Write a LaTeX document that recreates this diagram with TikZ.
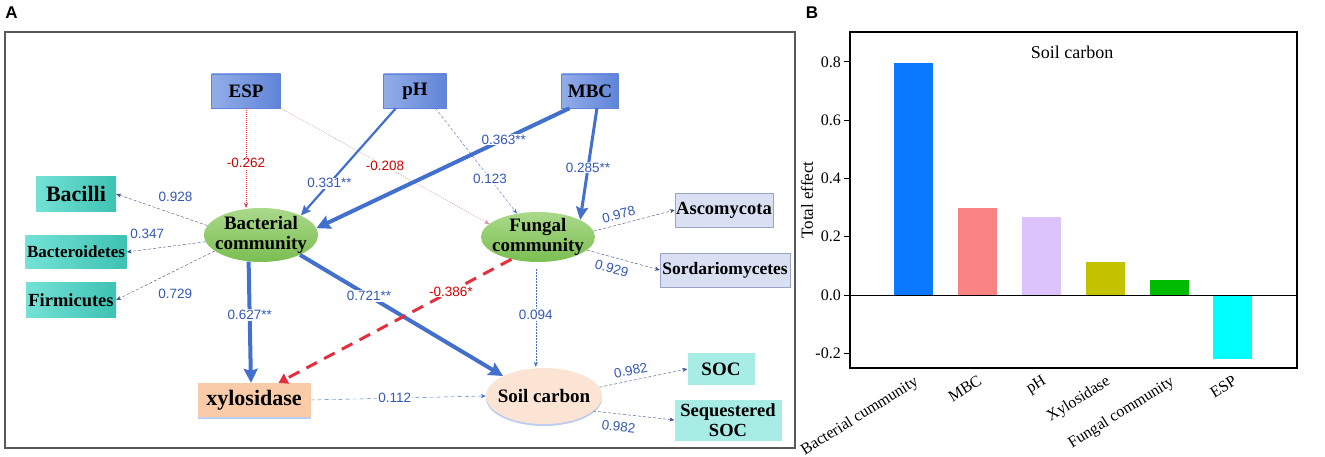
\documentclass[tikz,border=0pt]{standalone}
\usepackage{fontspec}
\setmainfont{Liberation Serif}
\newfontfamily\arialfont{Liberation Sans}
\usetikzlibrary{shapes.geometric,arrows.meta,shadows}

\definecolor{inA}{HTML}{93ADE8}
\definecolor{inB}{HTML}{5F84D8}
\definecolor{tealA}{HTML}{74E2D6}
\definecolor{tealB}{HTML}{3EC2B2}
\definecolor{lav}{HTML}{DAE0F4}
\definecolor{lavline}{HTML}{9AA4C4}
\definecolor{soc}{HTML}{A8EDE5}
\definecolor{peach}{HTML}{F9CBA8}
\definecolor{soil}{HTML}{FCE4D4}
\definecolor{grA}{HTML}{AAD98A}
\definecolor{grB}{HTML}{7BBE52}
\definecolor{pathblue}{HTML}{4270CC}
\definecolor{lblblue}{HTML}{3458B8}
\definecolor{navy}{HTML}{3A4C82}
\definecolor{redline}{HTML}{E2303E}
\definecolor{lblred}{HTML}{D40000}
\definecolor{pinkline}{HTML}{C98890}
\definecolor{barA}{HTML}{0A78FF}
\definecolor{barB}{HTML}{F98282}
\definecolor{barC}{HTML}{DCC3FB}
\definecolor{barD}{HTML}{C2C200}
\definecolor{barE}{HTML}{00BB00}
\definecolor{barF}{HTML}{00FFFF}

\begin{document}
\begin{tikzpicture}[x=1pt,y=-1pt,>={Stealth[length=5pt,width=4pt]},
    inbox/.style={rectangle, left color=inA, right color=inB, draw=inB, minimum height=34pt, inner sep=0pt, font=\bfseries\fontsize{19}{19}\selectfont},
    tealbox/.style={rectangle, left color=tealA, right color=tealB, minimum height=35pt, inner sep=0pt},
    lavbox/.style={rectangle, fill=lav, draw=lavline, minimum height=34pt, inner sep=0pt},
    socbox/.style={rectangle, fill=soc, inner sep=0pt, align=center},
    greenell/.style={ellipse, top color=grA, bottom color=grB, minimum width=114pt, minimum height=54pt, inner xsep=-14pt, inner ysep=-8pt, align=center, font=\bfseries\fontsize{19}{20}\selectfont},
    lbl/.style={font=\arialfont\fontsize{13.5}{13.5}\selectfont, text=lblblue, inner sep=1pt},
    onl/.style={lbl, fill=white},
    side/.style={->, draw=navy, thin, dash pattern=on 3pt off 2pt},
    strong/.style={draw=pathblue, line width=4pt, -{Stealth[length=14pt,width=14pt,inset=2pt]}},
    ]
    \useasboundingbox (0,0) rectangle (1325,457);

    % panel A
    \node [font=\arialfont\bfseries\fontsize{17}{17}\selectfont](A) at (11.5,12.5){A};
    \draw [draw=black!65, line width=1.3pt] (5,32) rectangle (795,448);

    \node [inbox, minimum width=69pt](1) at (246,91){ESP};
    \node [inbox, minimum width=63pt](2) at (415,91){pH};
    \node [inbox, minimum width=57pt](3) at (590,91){MBC};

    \node [tealbox, minimum width=80pt, font=\bfseries\fontsize{22}{22}\selectfont](4) at (76,194){Bacilli};
    \node [tealbox, minimum width=101pt, minimum height=33pt, font=\bfseries\fontsize{17}{17}\selectfont](5) at (76,252){Bacteroidetes};
    \node [tealbox, minimum width=90pt, font=\bfseries\fontsize{18.5}{18.5}\selectfont](6) at (71,300){Firmicutes};

    \node [greenell](7) at (261,235){Bacterial\\community};
    \node [greenell, minimum height=50pt](8) at (538,237){Fungal\\community};

    \node [rectangle, fill=peach, minimum width=113pt, minimum height=34pt, inner sep=0pt,
           drop shadow={shadow xshift=0pt, shadow yshift=-2pt, fill=pathblue!35, opacity=1},
           font=\bfseries\fontsize{22}{22}\selectfont](9) at (254,400){xylosidase};
    \node [ellipse, fill=soil, minimum width=116pt, minimum height=56pt, inner xsep=-14pt,
           drop shadow={shadow xshift=0pt, shadow yshift=-2pt, fill=pathblue!35, opacity=1},
           font=\bfseries\fontsize{19}{19}\selectfont](10) at (544,396){Soil carbon};

    \node [lavbox, minimum width=98pt, font=\bfseries\fontsize{18.5}{18.5}\selectfont](11) at (724,210){Ascomycota};
    \node [lavbox, minimum width=130pt, font=\bfseries\fontsize{17.5}{17.5}\selectfont](12) at (725,270){Sordariomycetes};
    \node [socbox, minimum width=67pt, minimum height=32pt, font=\bfseries\fontsize{19}{19}\selectfont](13) at (721,369){SOC};
    \node [socbox, minimum width=107pt, minimum height=41pt, font=\bfseries\fontsize{18.5}{19.5}\selectfont](14) at (728,420){Sequestered\\SOC};

    \path
        (1.south) edge[->, draw=redline, dash pattern=on 1pt off 1pt, >={Stealth[length=5pt,width=4pt]}]
            node[onl, text=lblred, pos=.55]{-0.262} (1.south |- 7.north)
        (1.south east) edge[->, draw=pinkline, dash pattern=on 1pt off 1pt]
            node[onl, text=lblred, pos=.5]{-0.208} (8.165)
        (2.222) edge[draw=pathblue, line width=2.2pt, -{Stealth[length=10pt,width=9pt,inset=1.5pt]}]
            node[onl, pos=.7]{0.331**} (7.26)
        (2.320) edge[->, draw=pathblue, dash pattern=on 3pt off 2pt]
            node[onl, pos=.67]{0.123} (8.132)
        (3.220) edge[strong] node[onl, pos=.26]{0.363**} (7.7)
        (3.292) edge[draw=pathblue, line width=3pt, -{Stealth[length=13pt,width=12pt,inset=2pt]}]
            node[onl, pos=.53]{0.285**} (8.22)

        (7.170) edge[side] node[lbl, pos=.35, above=12pt]{0.928} (4.east)
        (7.187) edge[side] node[lbl, pos=.74, above=10pt]{0.347} (5.east)
        (7.199) edge[side] node[lbl, pos=.4, below=17pt]{0.729} (6.east)

        (7.245) edge[strong] node[onl, pos=.44]{0.627**} (9.100)
        (7.333) edge[strong] node[onl, pos=.34]{0.721**} (10.154)
        (8.220) edge[draw=redline, line width=3pt, dash pattern=on 12pt off 8pt, -{Triangle[length=9pt,width=11pt]}]
            node[onl, text=lblred, pos=.26]{-0.386*} (9.35)
        (8.265) edge[->, draw=pathblue, dash pattern=on 1.5pt off 1.5pt, shorten <=7pt, shorten >=1pt]
            node[onl, pos=.5]{0.094} (8.265 |- 10.north)
        (9.east) edge[->, draw=pathblue, dash pattern=on 4pt off 3pt]
            node[onl, pos=.48]{0.112} (10.west)

        (8.6) edge[side] node[lbl, pos=.34, sloped, above=4pt]{0.978} (11.west)
        (8.345) edge[side] node[lbl, pos=.38, sloped, below=5pt]{0.929} (12.west)
        (10.9) edge[side] node[lbl, pos=.38, sloped, above=4pt]{0.982} (13.west)
        (10.343) edge[side] node[lbl, pos=.33, sloped, below=7pt]{0.982} (14.west)
    ;

    % panel B
    \node [font=\arialfont\bfseries\fontsize{17}{17}\selectfont](B) at (812,12.5){B};
    \node [font=\fontsize{18}{18}\selectfont](title) at (1072,52){Soil carbon};
    \node [font=\fontsize{17}{17}\selectfont, rotate=90](ylab) at (807,200){Total effect};

    \foreach \x/\v/\c/\t [count=\i] in {894/0.796/barA/Bacterial cummunity, 958/0.30/barB/MBC,
            1022/0.268/barC/pH, 1086/0.113/barD/Xylosidase, 1150/0.052/barE/Fungal community,
            1213/-0.22/barF/ESP}{
        \fill [\c] (\x,295) rectangle ++(39,{-291.5*\v});
        \node [font=\fontsize{16}{16}\selectfont, rotate=32, anchor=north east, inner sep=1pt](x\i) at ({\x+19.5},373){\t};
    }
    \foreach \v/\t [count=\i] in {-0.2/-0.2, 0/0.0, 0.2/0.2, 0.4/0.4, 0.6/0.6, 0.8/0.8}{
        \draw [line width=0.8pt] (844,{295-291.5*\v}) -- (850,{295-291.5*\v});
        \node [font=\fontsize{16}{16}\selectfont, anchor=east, inner sep=1pt](y\i) at (842,{295-291.5*\v}){\t};
    }
    \draw [line width=1.2pt] (850,32) rectangle (1297,368);
    \draw [line width=1pt] (850,295) -- (1297,295);
\end{tikzpicture}
\end{document}
